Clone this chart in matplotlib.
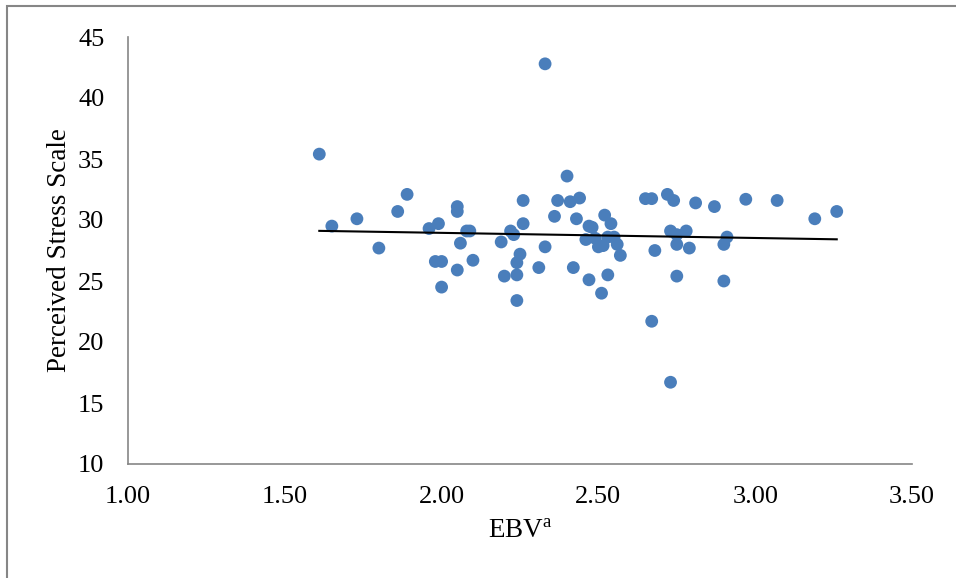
import numpy as np
import matplotlib
matplotlib.use("Agg")
import matplotlib.pyplot as plt
from matplotlib.patches import Rectangle

ebv = [1.61, 1.65, 1.73, 1.80, 1.86, 1.89, 1.96, 1.99, 1.98, 2.00,
       2.00, 2.05, 2.05, 2.06, 2.05, 2.08, 2.09, 2.10, 2.19, 2.20,
       2.22, 2.23, 2.24, 2.25, 2.24, 2.24, 2.26, 2.26, 2.31, 2.33,
       2.33, 2.36, 2.37, 2.40, 2.41, 2.44, 2.43, 2.42, 2.47, 2.48,
       2.46, 2.49, 2.47, 2.50, 2.515, 2.51, 2.52, 2.54, 2.53, 2.55,
       2.56, 2.57, 2.53, 2.65, 2.67, 2.72, 2.74, 2.81, 2.87, 2.97,
       3.07, 3.19, 3.26, 2.73, 2.75, 2.78, 2.75, 2.79, 2.68, 2.75,
       2.67, 2.73, 2.91, 2.90, 2.90]
pss = [35.4, 29.5, 30.1, 27.7, 30.7, 32.1, 29.3, 29.7, 26.6, 26.6,
       24.5, 31.1, 30.7, 28.1, 25.9, 29.1, 29.1, 26.7, 28.2, 25.4,
       29.1, 28.8, 26.5, 27.2, 25.5, 23.4, 31.6, 29.7, 26.1, 27.8,
       42.8, 30.3, 31.6, 33.6, 31.5, 31.8, 30.1, 26.1, 29.5, 29.4,
       28.4, 28.5, 25.1, 27.8, 27.9, 24.0, 30.4, 29.7, 28.6, 28.6,
       28.0, 27.1, 25.5, 31.75, 31.75, 32.1, 31.6, 31.4, 31.1, 31.7,
       31.6, 30.1, 30.7, 29.1, 28.8, 29.1, 28.0, 27.7, 27.5, 25.4,
       21.7, 16.7, 28.6, 28.0, 25.0]

x_ticks = [1.00, 1.50, 2.00, 2.50, 3.00, 3.50]
y_ticks = [10, 15, 20, 25, 30, 35, 40, 45]

plt.rcParams['font.family'] = ['Liberation Serif', 'DejaVu Serif']

fig = plt.figure(figsize=(9.56, 5.78), dpi=100)
ax = fig.add_axes([128/956, (578-464)/578, (912-128)/956, (464-37)/578])

x = np.array(ebv)
y = np.array(pss)
ax.scatter(x, y, s=85, color='#4a7ebb', edgecolors='none', zorder=3)
slope, intercept = np.polyfit(x, y, 1)
xl = np.array([x.min(), x.max()])
ax.plot(xl, slope * xl + intercept, color='black', lw=1.5, zorder=4)

ax.set_xlim(1.0, 3.5)
ax.set_ylim(10, 45)
ax.set_xticks(x_ticks)
ax.set_xticklabels([f"{t:.2f}" for t in x_ticks])
ax.set_yticks(y_ticks)
ax.set_yticklabels([str(t) for t in y_ticks])
ax.tick_params(length=0, labelsize=19)
ax.tick_params(axis='x', pad=16)
ax.tick_params(axis='y', pad=17)
for s in ['top', 'right']:
    ax.spines[s].set_visible(False)
for s in ['left', 'bottom']:
    ax.spines[s].set_color('#868686')
    ax.spines[s].set_linewidth(1.2)

ax.set_xlabel(r'EBV$^{\mathregular{a}}$', fontsize=19.5)
ax.set_ylabel('Perceived Stress Scale', fontsize=19.5)
ax.xaxis.set_label_coords((520 - 128) / 784, (464 - 531) / 427)
ax.xaxis.label.set_va('center')
ax.yaxis.set_label_coords((60 - 128) / 784, 0.5)
ax.yaxis.label.set_va('center')

fig.patches.append(Rectangle((6.5/956, -0.1), 1.2, 1.1 - 6.5/578,
                             transform=fig.transFigure, fill=False,
                             edgecolor='#868686', lw=1.5))

fig.savefig('out.png', dpi=100)
